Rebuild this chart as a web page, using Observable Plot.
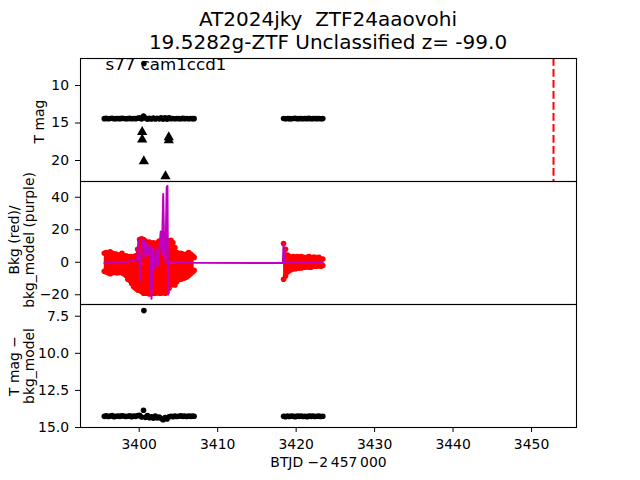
<!DOCTYPE html>
<html><head><meta charset="utf-8">
<script src="https://cdn.jsdelivr.net/npm/d3@7"></script>
<script src="https://cdn.jsdelivr.net/npm/@observablehq/plot@0.6"></script>
<style>
body{margin:0;background:#fff;}
#fig{position:relative;width:640px;height:480px;background:#fff;font-family:"DejaVu Sans",sans-serif;overflow:hidden;}
#title{position:absolute;left:0;top:8.1px;width:656px;text-align:center;font-size:20px;line-height:23.3px;white-space:pre;color:#000;}
#fig svg{position:absolute;left:0;overflow:visible;}
</style></head><body><div id="fig"><div id="title"></div></div>
<script>
// ---------- data ----------
const titleLines = ["AT2024jky  ZTF24aaovohi", "19.5282g-ZTF Unclassified z= -99.0"];
const fieldLabel = "s77 cam1ccd1";
const yLabel1 = "T mag";
const yLabel2 = "Bkg (red)/\nbkg_model (purple)";
const yLabel3 = "T mag \u2212\nbkg_model";
const xLabel = "BTJD \u22122\u2009457\u2009000";

const xTicks = [3400, 3410, 3420, 3430, 3440, 3450];
const yTicks1 = [10, 15, 20];
const yTicks2 = [-20, 0, 20, 40];
const yTicks3 = [7.5, 10.0, 12.5, 15.0];

const seg1T = [3395.55,3395.8,3396.05,3396.3,3396.55,3396.8,3397.05,3397.3,3397.55,3397.8,
  3398.05,3398.3,3398.55,3398.8,3399.05,3399.3,3399.55,3399.8,3400.05,3400.3,
  3400.55,3400.8,3401.05,3401.3,3401.55,3401.8,3402.05,3402.3,3402.55,3402.8,
  3403.05,3403.3,3403.55,3403.8,3404.05,3404.3,3404.55,3404.8,3405.05,3405.3,
  3405.55,3405.8,3406.05,3406.3,3406.55,3406.8,3407.0];
const seg2T = [3418.4,3418.65,3418.9,3419.15,3419.4,3419.65,3419.9,3420.15,3420.4,3420.65,
  3420.9,3421.15,3421.4,3421.65,3421.9,3422.15,3422.4,3422.65,3422.9,3423.15,3423.4];

// panel 1: T mag
const tmag1 = [14.42,14.38,14.43,14.40,14.37,14.44,14.41,14.39,14.42,14.38,
  14.40,14.43,14.41,14.38,14.44,14.40,14.42,14.37,14.30,14.45,
  14.08,14.35,14.50,14.38,14.46,14.34,14.47,14.36,14.45,14.30,
  14.48,14.32,14.50,14.30,14.42,14.40,14.44,14.39,14.41,14.43,
  14.38,14.42,14.40,14.44,14.39,14.41,14.42];
const tmag2 = [14.40,14.43,14.39,14.42,14.44,14.40,14.38,14.43,14.41,14.39,
  14.44,14.40,14.42,14.38,14.43,14.41,14.39,14.42,14.40,14.43,14.41];
const outlierT = [3400.6];
const outlierMag = [7.07];
const ulT = [3400.38, 3400.38, 3400.59, 3403.77, 3403.77, 3403.35];
const ulMag = [16.2, 17.2, 20.1, 16.9, 17.3, 22.1];
const peakT = [3452.8];

// panel 2: background (red, envelope of the scatter) and model (purple)
const bkgHi1 = [5.5,6,5.5,6.5,5.5,5,5,4.5,4.5,5.5,
  4,4,3.5,3.5,3.5,3,4,8,14,14.5,
  14,13,12,12.5,11,12,10,12,13,11,
  13,14,12,13,13.5,12,9,6,5,5.5,
  5,4.5,5,6,5,4,3];
const bkgLo1 = [-5.5,-6,-6.5,-7,-6.5,-6,-6.5,-6.5,-6,-6.5,
  -7,-8,-10.5,-11,-13,-15,-16,-17,-17,-18,
  -19,-19,-19,-19.5,-19,-19,-19,-18.5,-19,-19,
  -18.5,-19,-18.5,-16,-14,-13,-14,-12,-10,-10.5,
  -10,-9.5,-9,-8,-7,-6,-5];
const bkgHi2 = [11.5,8,4.5,3.5,3,3.5,3,3.5,3,3.5,3,2.5,3,3.5,2.5,3,3,2.5,3,2,2];
const bkgLo2 = [-10.5,-8.5,-6,-5,-4.5,-4,-4,-3.5,-3.5,-3.5,-3,-3,-2.5,-3,-3,-2.5,-2.5,-2.5,-2,-2.5,-2];
const modelT = [3395.55,3396.5,3397.5,3398.5,3399.3,3399.75,3399.9,3400.15,3400.4,3400.6,
  3400.8,3401.0,3401.2,3401.4,3401.57,3401.75,3401.9,3402.05,3402.25,3402.45,
  3402.6,3402.75,3402.9,3403.06,3403.2,3403.35,3403.5,3403.6,3403.68,3403.8,
  3404.0,3405.0,3406.0,3407.0,3418.3,3418.4,3418.5,3419.0,3420.0,3421.0,3422.0,3423.4];
const modelV = [-0.5,-0.3,0,0.5,1,1.5,14,-11,14,13,
  3,12,5,10,-22.5,9,2,-4,8,-2,
  10,19,5,42,5,0,46,47,-20,1,
  0,0.3,0,-0.3,-0.5,11,0,0,0,0,0,-0.2];

// panel 3: T mag - bkg_model
const diff1 = [14.25,14.21,14.26,14.23,14.20,14.27,14.24,14.22,14.25,14.21,
  14.23,14.26,14.24,14.21,14.27,14.23,14.25,14.20,14.18,14.30,
  13.84,14.32,14.20,14.35,14.28,14.38,14.22,14.36,14.30,14.40,
  14.48,14.33,14.42,14.28,14.24,14.27,14.22,14.26,14.24,14.21,
  14.25,14.23,14.26,14.22,14.25,14.23,14.24];
const diff2 = [14.24,14.27,14.23,14.26,14.22,14.25,14.27,14.23,14.25,14.22,
  14.26,14.24,14.27,14.23,14.25,14.22,14.26,14.24,14.23,14.26,14.24];
const diffOutT = [3400.6];
const diffOutV = [7.12];

// ---------- tables ----------
const seg = (ts, vs, key) => ts.map((t, i) => ({t, v: vs[i], seg: key}));
const mag = seg(seg1T, tmag1, 1).concat(seg(seg2T, tmag2, 2), seg(outlierT, outlierMag, 0));
const ul = seg(ulT, ulMag, 0);
const bkg = seg1T.map((t, i) => ({t, hi: bkgHi1[i], lo: bkgLo1[i], seg: 1}))
  .concat(seg2T.map((t, i) => ({t, hi: bkgHi2[i], lo: bkgLo2[i], seg: 2})));
const model = seg(modelT, modelV, 0);
const diff = seg(seg1T, diff1, 1).concat(seg(seg2T, diff2, 2), seg(diffOutT, diffOutV, 0));

// ---------- layout ----------
const W = 640, ML = 80, MR = 64;
const xDomain = [3392.52, 3455.73];
const FONT = '"DejaVu Sans", sans-serif';
const fig = document.getElementById("fig");
document.getElementById("title").textContent = titleLines.join("\n");

function base(h, mb) {
  return {width: W, height: h, marginLeft: ML, marginRight: MR, marginTop: 0, marginBottom: mb,
    style: {fontFamily: FONT, fontSize: "13.9px", background: "transparent", color: "#000", overflow: "visible"}};
}
const frame = () => Plot.frame({stroke: "#000", strokeWidth: 1.1});
const yAx = (ticks, fmt) => Plot.axisY(ticks, {tickSize: 5, tickPadding: 6.5, label: null, fontSize: 13.9, tickFormat: fmt});
const yLab = (txt, dx, dy) => Plot.text([txt], {text: d => d, frameAnchor: "left", rotate: -90, dx, dy,
  textAnchor: "middle", lineAnchor: "middle", lineHeight: 1.08, fontSize: 13.9, fill: "#000"});
const R = 2.8;

// panel 1
const p1 = Plot.plot({
  ...base(123, 0),
  x: {domain: xDomain, axis: null},
  y: {domain: [6.4, 22.8], reverse: true, axis: null},
  marks: [
    Plot.ruleX(peakT, {stroke: "#ff0000", strokeWidth: 2, strokeDasharray: "7.7,3.3"}),
    Plot.text([fieldLabel], {text: d => d, frameAnchor: "top-left", dx: 25, dy: -0.5, lineAnchor: "top",
      textAnchor: "start", fontSize: 16.67, fill: "#000"}),
    Plot.dot(mag, {x: "t", y: "v", r: R, fill: "#000", stroke: null}),
    Plot.dot(ul, {x: "t", y: "v", symbol: "triangle", r: 3.8, fill: "#000", stroke: null}),
    yAx(yTicks1, d => String(d)),
    yLab(yLabel1, -41, 1.5),
    frame()
  ]
});
p1.style.top = "58px";
fig.appendChild(p1);

// panel 2
const p2 = Plot.plot({
  ...base(123, 0),
  x: {domain: xDomain, axis: null},
  y: {domain: [-26, 49.7], axis: null},
  marks: [
    Plot.areaY(bkg, {x: "t", y1: "lo", y2: "hi", z: "seg", fill: "#ff0000"}),
    Plot.dot(bkg, {x: "t", y: "hi", r: R, fill: "#ff0000", stroke: null}),
    Plot.dot(bkg, {x: "t", y: "lo", r: R, fill: "#ff0000", stroke: null}),
    Plot.line(model, {x: "t", y: "v", stroke: "#bf00bf", strokeWidth: 2}),
    yAx(yTicks2, d => d < 0 ? "\u2212" + Math.abs(d) : String(d)),
    yLab(yLabel2, -59.2, -3),
    frame()
  ]
});
p2.style.top = "181px";
fig.appendChild(p2);

// panel 3
const p3 = Plot.plot({
  ...base(176, 53),
  x: {domain: xDomain},
  y: {domain: [6.71, 15.0], reverse: true, axis: null},
  marks: [
    Plot.dot(diff, {x: "t", y: "v", r: R, fill: "#000", stroke: null}),
    yAx(yTicks3, d3.format(".1f")),
    Plot.axisX(xTicks, {tickSize: 5, tickPadding: 6.5, label: null, fontSize: 13.9, tickFormat: d => String(d)}),
    yLab(yLabel3, -59.2, 0),
    Plot.text([xLabel], {text: d => d, frameAnchor: "bottom", dy: 35.3, textAnchor: "middle", lineAnchor: "middle",
      fontSize: 13.9, fill: "#000"}),
    frame()
  ]
});
p3.style.top = "304px";
fig.appendChild(p3);
</script></body></html>
